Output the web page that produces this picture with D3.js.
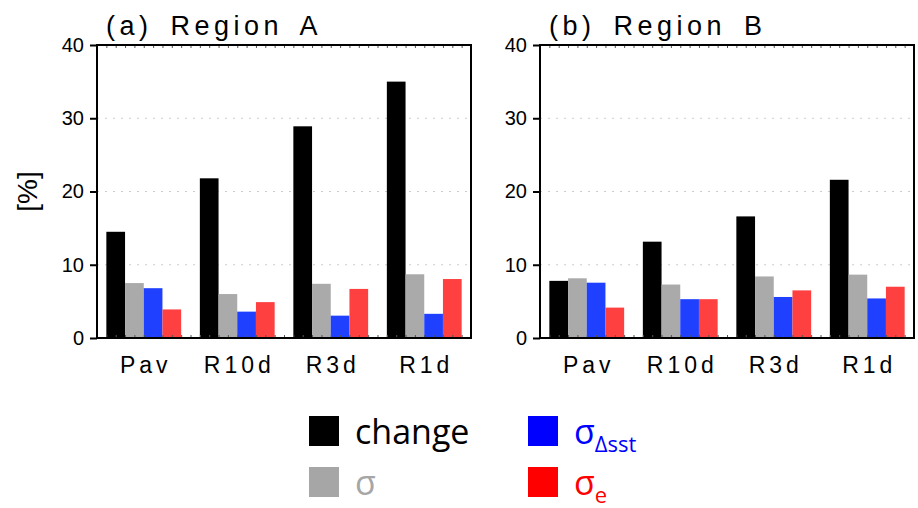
<!DOCTYPE html>
<html>
<head>
<meta charset="utf-8">
<script src="https://cdn.jsdelivr.net/npm/d3@7"></script>
<style>
  body { margin: 0; background: #fff; }
  svg { display: block; }
</style>
</head>
<body>
<svg id="chart" width="918" height="508"></svg>
<script>
const categories = ['Pav', 'R10d', 'R3d', 'R1d'];
const seriesKeys = ['change', 'sigma', 'sigmaSst', 'sigmaE'];
const yTicks = [0, 10, 20, 30, 40];

// values in % per category, order: change, σ, σΔsst, σe
const regionA = [
  [14.5, 7.5, 6.8, 3.9],
  [21.8, 6.0, 3.6, 4.9],
  [28.9, 7.4, 3.05, 6.7],
  [35.0, 8.7, 3.3, 8.05]
];
const regionB = [
  [7.8, 8.15, 7.55, 4.15],
  [13.15, 7.3, 5.3, 5.3],
  [16.6, 8.4, 5.6, 6.5],
  [21.6, 8.65, 5.4, 7.0]
];
const panelTitles = ['(a) Region A', '(b) Region B'];

const barColors = ['#000000', '#aaaaaa', '#2040ff', '#ff4040'];
const legendColors = ['#000000', '#a6a6a6', '#0000ff', '#ff0000'];

const svg = d3.select('#chart');
const tickFont = '"Liberation Sans", Arial, sans-serif';

const panels = [
  { x: 97, data: regionA, title: panelTitles[0] },
  { x: 540, data: regionB, title: panelTitles[1] }
];
const plotTop = 45, plotBottom = 338, pw = 374;

const y = d3.scaleLinear().domain([0, 40]).range([plotBottom, plotTop]);

panels.forEach((p, pi) => {
  const g = svg.append('g');
  const x0 = d3.scaleBand().domain(categories)
    .range([p.x, p.x + pw]).paddingInner(0.2).paddingOuter(0.1);
  const x1 = d3.scaleBand().domain(seriesKeys).range([0, x0.bandwidth()]);

  // dotted grid
  g.selectAll('line.grid').data([10, 20, 30]).enter().append('line')
    .attr('x1', p.x).attr('x2', p.x + pw)
    .attr('y1', d => y(d)).attr('y2', d => y(d))
    .attr('stroke', '#cccccc').attr('stroke-width', 1)
    .attr('stroke-dasharray', '2,6');

  // bars
  categories.forEach((c, ci) => {
    g.selectAll(null).data(p.data[ci]).enter().append('rect')
      .attr('x', (d, i) => x0(c) + x1(seriesKeys[i]))
      .attr('width', x1.bandwidth())
      .attr('y', d => y(d))
      .attr('height', d => y(0) - y(d))
      .attr('fill', (d, i) => barColors[i]);
  });

  // tiny minor ticks along top and bottom frame
  const xm = d3.scaleLinear().domain([0, 40]).range([p.x, p.x + pw]);
  const topAx = g.append('g').attr('transform', `translate(0,${plotTop})`)
    .call(d3.axisBottom(xm).ticks(40).tickSize(3).tickFormat(''));
  const botAx = g.append('g').attr('transform', `translate(0,${plotBottom})`)
    .call(d3.axisTop(xm).ticks(40).tickSize(3).tickFormat(''));
  [topAx, botAx].forEach(a => {
    a.select('.domain').remove();
    a.selectAll('line').attr('stroke', '#555').attr('stroke-width', 1);
  });

  // frame
  g.append('rect')
    .attr('x', p.x).attr('y', plotTop).attr('width', pw).attr('height', plotBottom - plotTop)
    .attr('fill', 'none').attr('stroke', '#000').attr('stroke-width', 2);

  // y axis
  const yAxis = d3.axisLeft(y).tickValues(yTicks).tickSize(7).tickPadding(6);
  const ya = g.append('g').attr('transform', `translate(${p.x},0)`).call(yAxis);
  ya.select('.domain').remove();
  ya.selectAll('line').attr('stroke-width', 2);
  ya.selectAll('text').attr('font-family', tickFont).attr('font-size', 20)
    .attr('fill', '#000');

  // x labels
  const xAxis = d3.axisBottom(x0).tickSize(0).tickPadding(19);
  const xa = g.append('g').attr('transform', `translate(0,${plotBottom})`).call(xAxis);
  xa.select('.domain').remove();
  xa.selectAll('text').attr('font-family', tickFont).attr('font-size', 23)
    .attr('letter-spacing', 4).attr('dx', 2).attr('fill', '#000');

  // title
  g.append('text').attr('x', p.x + 9).attr('y', 35)
    .attr('font-family', tickFont).attr('font-size', 27)
    .attr('letter-spacing', 4.5).attr('word-spacing', 6).attr('fill', '#000')
    .text(p.title);
});

// y label
svg.append('text')
  .attr('transform', `translate(37,${(plotTop + plotBottom) / 2}) rotate(-90)`)
  .attr('text-anchor', 'middle')
  .attr('font-family', tickFont).attr('font-size', 28)
  .text('[%]');

// legend
const legendFont = '"Open Sans", "Noto Sans", sans-serif';
const legendItems = [
  { x: 309, y: 416, color: legendColors[0], main: 'change', sub: '' },
  { x: 309, y: 467, color: legendColors[1], main: 'σ', sub: '' },
  { x: 528, y: 416, color: legendColors[2], main: 'σ', sub: 'Δsst' },
  { x: 528, y: 467, color: legendColors[3], main: 'σ', sub: 'e' }
];
const lg = svg.append('g');
legendItems.forEach(it => {
  lg.append('rect').attr('x', it.x).attr('y', it.y).attr('width', 30).attr('height', 30)
    .attr('fill', it.color);
  const t = lg.append('text').attr('x', it.x + 46).attr('y', it.y + 28)
    .attr('font-family', legendFont).attr('font-size', 34).attr('fill', it.color);
  t.append('tspan').text(it.main);
  if (it.sub) {
    t.append('tspan').attr('dy', 8).attr('font-size', 22).text(it.sub);
  }
});
</script>
</body>
</html>
